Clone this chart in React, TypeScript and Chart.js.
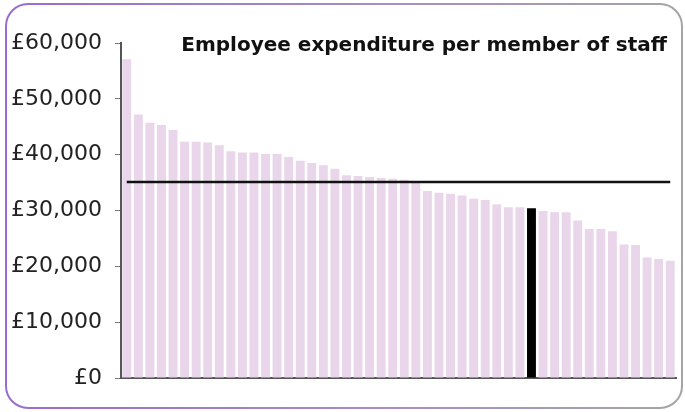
import React, { useEffect, useRef } from "react";
import { Chart, registerables } from "chart.js";

Chart.register(...registerables);

const categories = [
  "1", "2", "3", "4", "5", "6", "7", "8", "9", "10", "11", "12",
  "13", "14", "15", "16", "17", "18", "19", "20", "21", "22", "23", "24",
  "25", "26", "27", "28", "29", "30", "31", "32", "33", "34", "35", "36",
  "37", "38", "39", "40", "41", "42", "43", "44", "45", "46", "47", "48",
];

const expenditure = [
  57100, 47200, 45700, 45300, 44400, 42300, 42300, 42200, 41700, 40600, 40400, 40400,
  40100, 40100, 39600, 38900, 38500, 38100, 37500, 36300, 36200, 36000, 35800, 35700,
  35500, 35300, 33500, 33200, 33000, 32700, 32100, 31900, 31100, 30600, 30600, 30400,
  29900, 29700, 29700, 28200, 26700, 26700, 26300, 23900, 23800, 21600, 21300, 21000,
];

const highlightIndex = 35;
const benchmark = 35100;

const yTickValues = [0, 10000, 20000, 30000, 40000, 50000, 60000];
const yTickLabels = ["£0", "£10,000", "£20,000", "£30,000", "£40,000", "£50,000", "£60,000"];

const chartTitle = "Employee expenditure per member of staff";

export default function App() {
  const ref = useRef<HTMLCanvasElement>(null);

  useEffect(() => {
    document.body.style.margin = "0";
    const framePlugin = {
      id: "frame",
      beforeDraw(chart: any) {
        const { ctx } = chart;
        ctx.save();
        const g = ctx.createLinearGradient(0, 0, 685, 0);
        g.addColorStop(0, "#9a6cce");
        g.addColorStop(0.6, "#a88fc4");
        g.addColorStop(1, "#a5a5a5");
        ctx.strokeStyle = g;
        ctx.lineWidth = 2;
        ctx.beginPath();
        ctx.roundRect(6, 4, 676, 404, 22);
        ctx.stroke();
        ctx.restore();
      },
      afterDraw(chart: any) {
        const { ctx } = chart;
        ctx.save();
        ctx.font = 'bold 20px "DejaVu Sans", sans-serif';
        ctx.fillStyle = "#111";
        ctx.textAlign = "right";
        ctx.textBaseline = "alphabetic";
        ctx.fillText(chartTitle, 667, 51);
        ctx.restore();
      },
    };

    const chart = new Chart(ref.current as HTMLCanvasElement, {
      data: {
        labels: categories,
        datasets: [
          {
            type: "line",
            data: categories.map(() => benchmark),
            borderColor: "#111",
            borderWidth: 2.5,
            pointRadius: 0,
            order: 0,
          } as any,
          {
            type: "bar",
            data: expenditure,
            backgroundColor: expenditure.map((_, i) => (i === highlightIndex ? "#000000" : "#e9d6ea")),
            barPercentage: 0.77,
            categoryPercentage: 1,
            order: 1,
          } as any,
        ],
      },
      options: {
        responsive: false,
        animation: false,
        layout: { padding: { top: 43, bottom: 34, left: 8, right: 9 } },
        plugins: {
          legend: { display: false },
          tooltip: { enabled: false },
          title: { display: false },
        },
        scales: {
          x: {
            grid: { display: false },
            ticks: { display: false },
            border: { display: true, color: "#555", width: 2 },
            afterFit: (s: any) => {
              s.height = 0;
            },
          },
          y: {
            min: 0,
            max: 60000,
            afterBuildTicks: (s: any) => {
              s.ticks = yTickValues.map((v) => ({ value: v }));
            },
            ticks: {
              callback: (_v: any, i: number) => yTickLabels[i],
              font: { family: "DejaVu Sans", size: 22 },
              color: "#222",
              padding: 13,
            },
            grid: { drawOnChartArea: false, tickLength: 6, color: "#777", lineWidth: 1 },
            border: { color: "#555", width: 2 },
            afterFit: (s: any) => {
              s.width = 113;
            },
          },
        },
      } as any,
      plugins: [framePlugin],
    });
    return () => chart.destroy();
  }, []);

  return <canvas ref={ref} width={685} height={412} style={{ display: "block" }} />;
}
